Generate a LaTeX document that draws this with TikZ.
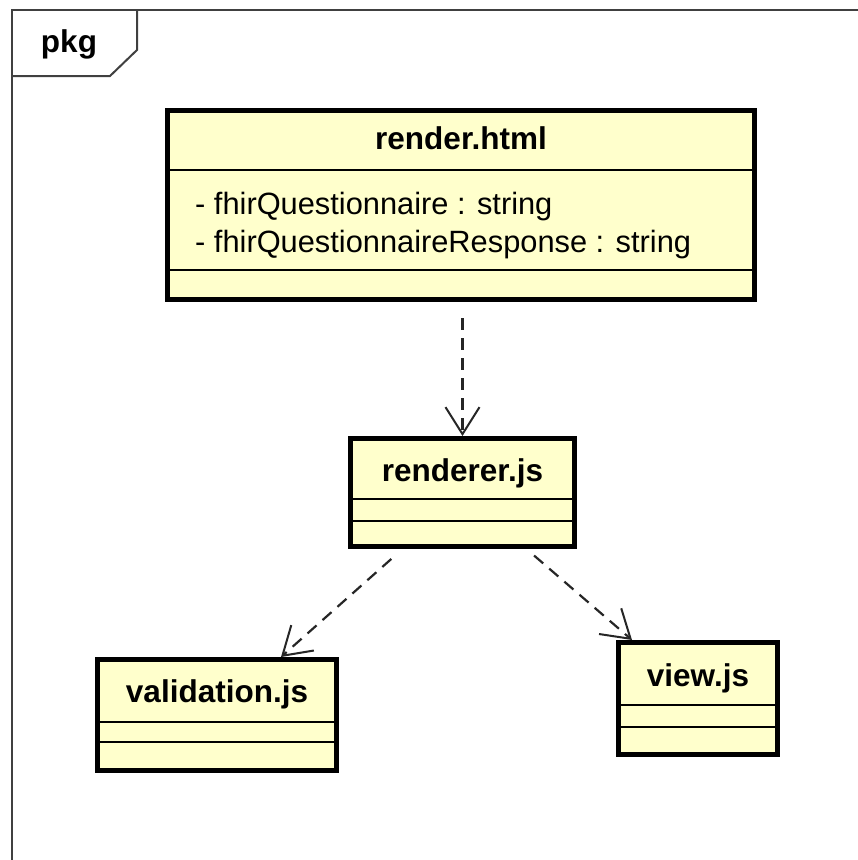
\documentclass[tikz,border=0pt]{standalone}
\usepackage{fontspec}
\setmainfont{Liberation Sans}
\usetikzlibrary{arrows.meta,calc}

\definecolor{clsfill}{RGB}{255,255,204}
\definecolor{framegray}{RGB}{64,64,64}

\tikzset{
  clsbox/.style={draw=black, fill=clsfill, line width=5pt, rectangle, inner sep=0pt},
  clsname/.style={font=\fontsize{31.5}{36}\selectfont\bfseries, inner sep=0pt, text height=22pt, text depth=6pt},
  attr/.style={font=\fontsize{30.8}{36}\selectfont, inner sep=0pt, anchor=west, text height=22pt, text depth=6pt},
  sepline/.style={draw=black, line width=1.6pt},
  frameline/.style={draw=framegray, line width=2pt},
  dep/.style={draw=black!85, line width=2.2pt, dash pattern=on 12pt off 8pt,
    -{Straight Barb[length=27pt, width=34pt, line width=2pt]}},
}

\begin{document}
\begin{tikzpicture}[x=1pt, y=-1pt]
  \useasboundingbox (0,0) rectangle (858,860);
  \fill[white] (0,0) rectangle (858,860);

  % package frame and its name tab
  \draw[frameline] (12,870) -- (12,10) -- (870,10);
  \draw[frameline] (137,10) -- (137,50) -- (110,76) -- (12,76);
  \node[clsname] (pkgname) at (69,44) {pkg};

  % render.html
  \node[clsbox, minimum width=587pt, minimum height=189pt] (html) at (461,205) {};
  \draw[sepline] (html.west |- 0,170) -- (html.east |- 0,170);
  \draw[sepline] (html.west |- 0,270) -- (html.east |- 0,270);
  \node[clsname] (htmlname) at (461,141) {render.html};
  \node[attr] (attrq) at (195,206) {- fhirQuestionnaire : string};
  \node[attr] (attrqr) at (195,244) {- fhirQuestionnaireResponse : string};

  % renderer.js
  \node[clsbox, minimum width=224pt, minimum height=108pt] (renderer) at (462.5,492.5) {};
  \draw[sepline] (renderer.west |- 0,499) -- (renderer.east |- 0,499);
  \draw[sepline] (renderer.west |- 0,521) -- (renderer.east |- 0,521);
  \node[clsname] (renderername) at (462.5,473) {renderer.js};

  % validation.js
  \node[clsbox, minimum width=239pt, minimum height=111pt] (validation) at (217,715) {};
  \draw[sepline] (validation.west |- 0,722) -- (validation.east |- 0,722);
  \draw[sepline] (validation.west |- 0,742) -- (validation.east |- 0,742);
  \node[clsname] (validationname) at (217,694) {validation.js};

  % view.js
  \node[clsbox, minimum width=159pt, minimum height=112pt] (view) at (698,698.5) {};
  \draw[sepline] (view.west |- 0,705) -- (view.east |- 0,705);
  \draw[sepline] (view.west |- 0,727) -- (view.east |- 0,727);
  \node[clsname] (viewname) at (698,678) {view.js};

  % dependencies
  \draw[dep, shorten <=16pt] (html.south -| renderer.north) -- (renderer.north);
  \draw[dep, shorten <=15pt] ([xshift=-60pt]renderer.south) -- ([xshift=64pt]validation.north);
  \draw[dep, shorten <=10pt] ([xshift=64pt]renderer.south) -- ([xshift=-66pt]view.north);
\end{tikzpicture}
\end{document}
